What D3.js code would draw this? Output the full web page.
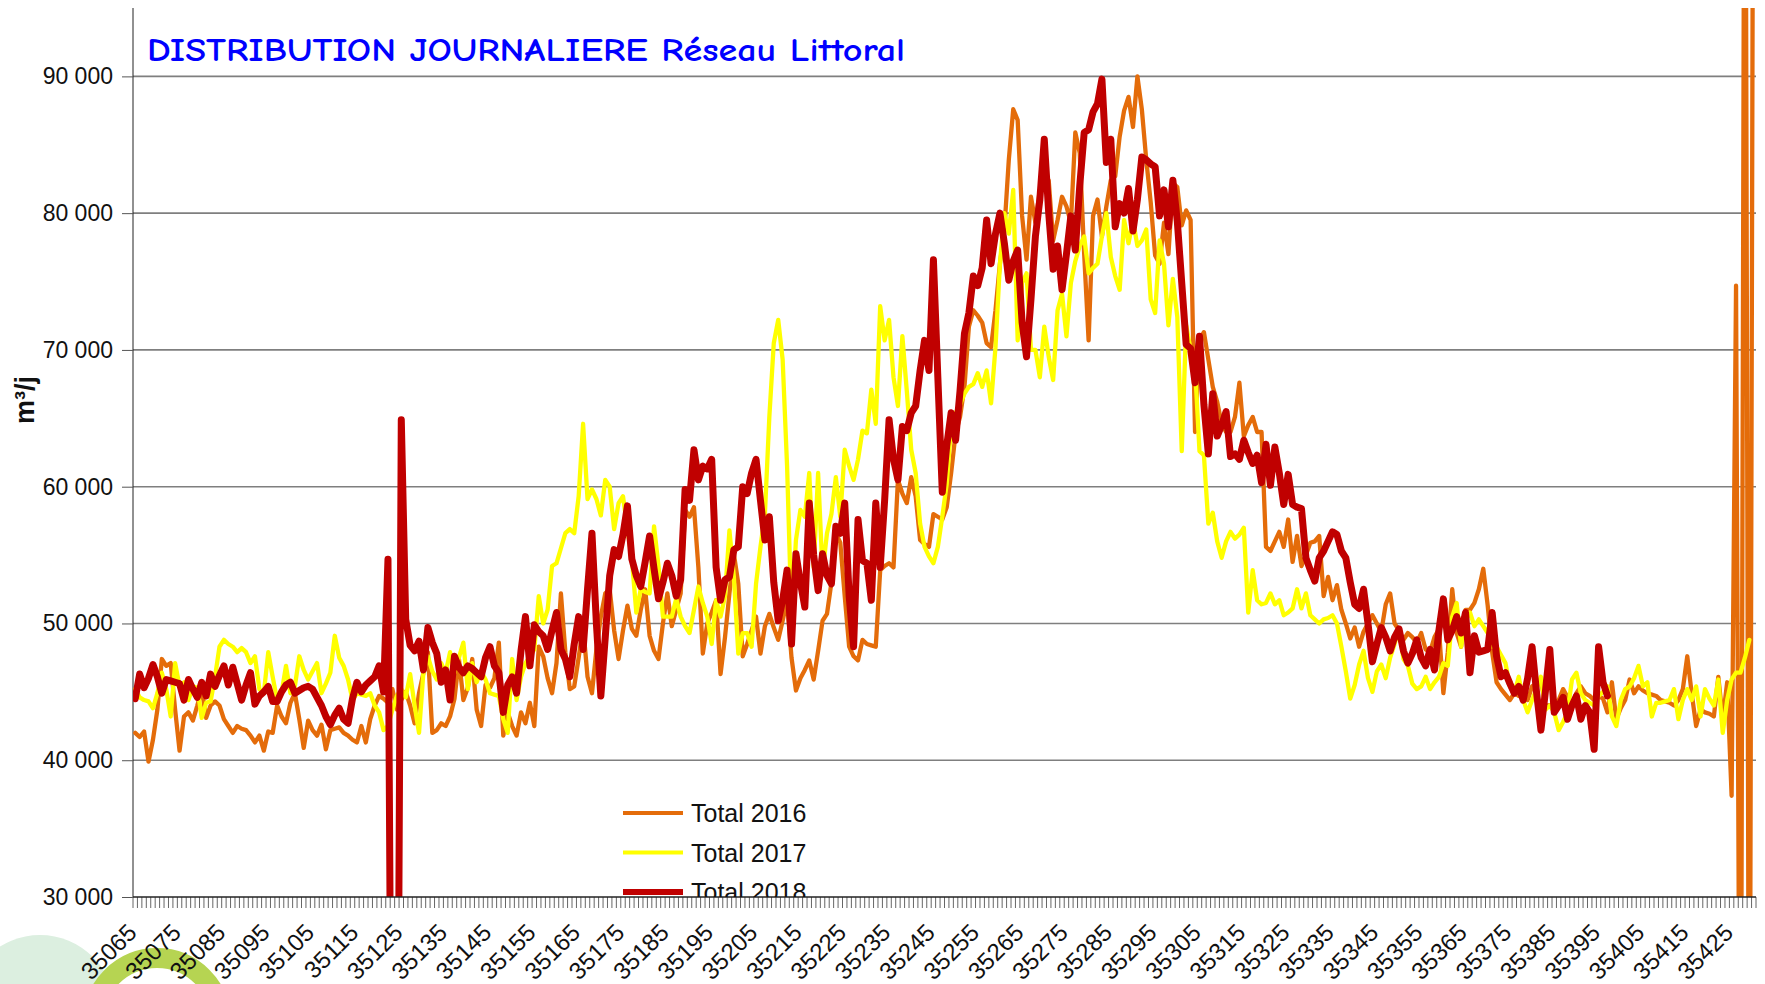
<!DOCTYPE html>
<html>
<head>
<meta charset="utf-8">
<script src="https://cdn.jsdelivr.net/npm/d3@7"></script>
<style>
  body { margin: 0; background: #fff; }
  svg { display: block; font-family: "Liberation Sans", Arial, sans-serif; }
</style>
</head>
<body>
<svg id="chart" width="1765" height="984"></svg>
<script>
// categories: Excel day numbers 35065 .. 35430
const days = d3.range(35065, 35431);
const tickDays = d3.range(35065, 35431, 10);
const yTicks = [30000, 40000, 50000, 60000, 70000, 80000, 90000];

const seriesNames = ['Total 2016', 'Total 2017', 'Total 2018'];

const total2016 = [
  42000, 41700, 42100, 39900, 41500, 43700, 47400, 46900, 47100, 43700,
  40700, 43200, 43500, 42900, 44000, 45200, 43100, 44000, 44300, 44000,
  43000, 42500, 42000, 42500, 42300, 42200, 41800, 41300, 41800, 40700,
  42100, 42000, 44000, 43200, 42700, 44200, 44900, 43000, 40900, 42900,
  42200, 41800, 42600, 40800, 42200, 42300, 42400, 42000, 41800, 41500,
  41300, 42500, 41300, 43000, 44000, 44700, 44500, 44200, 45200, 43700,
  44400, 45000, 44000, 42700, 44900, 46400, 47900, 42000, 42200, 42700,
  42500, 43200, 44500, 47400, 44400, 45300, 47400, 43700, 42500, 45500,
  45300, 46000, 48600, 41800, 43500, 42500, 41800, 43500, 42700, 44200,
  42500, 48300, 47600, 46000, 44900, 47100, 52200, 47900, 45200, 45400,
  47500, 49800, 46100, 44900, 48100, 50500, 52200, 52500, 49500, 47400,
  49500, 51300, 49600, 49100, 51000, 52500, 49100, 48000, 47400, 50000,
  52200, 49800, 51000, 52200, 58300, 57800, 58500, 54100, 47800, 50000,
  50800, 51700, 46300, 49000, 52200, 55100, 52900, 47600, 48500, 49500,
  50500, 47800, 49800, 50700, 49700, 48800, 50200, 51700, 47500, 45100,
  46000, 46600, 47300, 45900, 48000, 50200, 50700, 53000, 56600, 55900,
  52000, 48300, 47600, 47300, 48800, 48500, 48400, 48300, 53900, 54200,
  54400, 54100, 60500, 59500, 58800, 60700, 59300, 56100, 55800, 55600,
  58000, 57800, 57600, 58500, 61000, 63900, 65100, 67300, 71700, 72900,
  72500, 72000, 70500, 70200, 72900, 76300, 78800, 83900, 87600, 86800,
  79800, 76600, 81200, 79300, 81700, 82500, 82400, 78000, 79500, 81200,
  80500, 79300, 85900, 84400, 77000, 70700, 79800, 81000, 78300, 80500,
  82400, 82700, 85600, 87500, 88500, 86300, 90000, 87600, 83900, 80800,
  76900, 76300, 79300, 77000, 82200, 81900, 79100, 80200, 79500, 64000,
  70700, 71300, 69300, 67300, 66200, 64600, 64000, 64000, 65100, 67600,
  63700, 64500, 65100, 64000, 64000, 55600, 55300, 56000, 56700, 55600,
  57600, 54500, 56400, 54200, 55000, 55900, 56000, 56400, 52000, 53400,
  51700, 52800, 51000, 50000, 48900, 49700, 48300, 49400, 50000, 50600,
  50000, 49400, 51400, 52200, 50000, 49500, 48800, 49300, 49000, 48600,
  49300, 48100, 47900, 49000, 49600, 44900, 47900, 52500, 49300, 48300,
  51000, 51000, 51500, 52500, 54000, 51300, 47900, 45700, 45200, 44800,
  44400, 44900, 44700, 44600, 44400, 45400, 45600, 45900, 44000, 44000,
  44200, 44400, 45200, 44600, 44000, 44900, 45400, 44900, 44700, 44400,
  44700, 44500, 43500, 45700, 43000, 43800, 44400, 45900, 44900, 45400,
  45100, 44900, 44800, 44700, 44400, 44300, 44200, 44000, 44400, 45200,
  47600, 44900, 42500, 43700, 43500, 43400, 43200, 46100, 43000, 45700,
  37400, 74700, 0, 130000, 0, 130000
];

const total2017 = [
  45200, 44600, 44400, 44300, 43800, 44900, 46400, 45200, 43200, 47100,
  45400, 45700, 44400, 45400, 45300, 43100, 44200, 44300, 46100, 48300,
  48800, 48500, 48300, 47900, 48200, 47900, 47100, 47600, 45200, 44900,
  47900, 46100, 44400, 44900, 46900, 44900, 45400, 47600, 46600, 45900,
  46500, 47100, 44900, 45600, 46400, 49100, 47500, 46900, 45900, 44400,
  44900, 44800, 44700, 44900, 44000, 43500, 42200, 42500, 43700, 44700,
  45200, 44600, 46300, 44000, 42000, 46500, 47600, 46500, 45900, 47100,
  46400, 47900, 46400, 47500, 48600, 45200, 47100, 45700, 46500, 45900,
  44900, 44800, 44700, 43000, 42000, 47400, 44400, 46100, 47100, 47600,
  48100, 52000, 50000, 51000, 54200, 54400, 55500, 56600, 56900, 56600,
  59300, 64600, 59100, 59800, 59100, 57900, 60500, 60000, 56900, 58800,
  59300, 56900, 54700, 50800, 52500, 52300, 52200, 57100, 54200, 50500,
  50500, 50500, 51800, 50500, 49800, 49300, 51000, 52700, 51500, 50500,
  48500, 51700, 50500, 52000, 56800, 53400, 47800, 49300, 49300, 48300,
  52900, 55600, 58000, 65100, 70500, 72200, 69300, 61500, 50500, 56100,
  58300, 57800, 61000, 54100, 61000, 53700, 56600, 58000, 60700, 57800,
  62700, 61500, 60500, 62000, 64100, 63900, 67100, 64600, 73200, 70700,
  72200, 68000, 65900, 71000, 67000, 62700, 61000, 57300, 55600, 54900,
  54400, 55600, 57800, 60200, 64400, 65400, 66000, 66800, 67300, 67500,
  68300, 67300, 68500, 66100, 70200, 76300, 80000, 78500, 81700, 70700,
  74900, 75600, 70000, 70000, 68000, 71700, 69500, 67800, 72900, 74100,
  71000, 74900, 76500, 77600, 78300, 75600, 76000, 76300, 78300, 80000,
  76800, 75400, 74400, 79500, 77800, 79500, 77600, 78000, 78800, 73700,
  72700, 78000, 76300, 71800, 75200, 72400, 62600, 71800, 70000, 68700,
  62600, 62300, 57300, 58100, 56000, 54800, 56000, 56700, 56200, 56500,
  57000, 50800, 53900, 51700, 51400, 51500, 52200, 51400, 51700, 50600,
  50800, 51100, 52500, 51100, 52200, 50600, 50300, 50000, 50300, 50400,
  50600, 50000, 48300, 46500, 44500, 45500, 47000, 48000, 46000, 45000,
  46500, 47000, 46000, 47500, 48500, 49600, 47400, 46900, 45600, 45200,
  45400, 46100, 45200, 45700, 46100, 47100, 46900, 50500, 51500, 48300,
  50300, 50800, 49800, 50300, 49800, 49300, 48300, 48300, 47700, 47100,
  45400, 44900, 46100, 44400, 43500, 44400, 45200, 46100, 43700, 44000,
  43500, 42200, 42800, 43500, 45900, 46400, 44900, 44400, 44200, 44000,
  44700, 45000, 45400, 43200, 42500, 44400, 45200, 45400, 46000, 46900,
  45400, 45700, 43200, 44200, 44200, 44300, 44400, 45200, 43000, 44400,
  45200, 44400, 45400, 43200, 45200, 44500, 44000, 45900, 42000, 44400,
  45900, 46400, 46400, 47500, 48800
];

const total2018 = [
  44500, 46300, 45300, 46000, 47000, 46100, 44900, 45900, 45800, 45700,
  45600, 44400, 45900, 45200, 44600, 45700, 44700, 46300, 45400, 46200,
  46900, 45500, 46800, 45600, 44400, 45500, 46400, 44100, 44700, 45000,
  45400, 44300, 44300, 45000, 45500, 45700, 44900, 45100, 45300, 45400,
  45200, 44600, 44000, 43200, 42600, 43300, 43800, 43000, 42700, 44500,
  45700, 45000, 45500, 45800, 46100, 46900, 45000, 54700, 0, 0,
  64900, 50300, 48400, 48000, 48700, 46600, 49700, 48600, 47800, 45700,
  46600, 44400, 47600, 46800, 46400, 46900, 46700, 46400, 46100, 47500,
  48300, 46900, 46400, 43500, 45500, 46100, 44900, 48000, 50500, 46900,
  49900, 49400, 49100, 48100, 49500, 50800, 48100, 47400, 46100, 48500,
  50500, 48100, 52500, 56600, 50000, 44700, 49000, 53500, 55400, 54900,
  56500, 58600, 54700, 53500, 52700, 54500, 56400, 54000, 51800, 53000,
  54400, 53500, 52000, 53200, 59800, 59000, 62700, 60500, 61500, 61300,
  62000, 54100, 51700, 53200, 53400, 55400, 55600, 60000, 59500, 61000,
  62000, 59000, 56100, 57800, 53000, 50200, 51700, 53900, 48500, 55100,
  53000, 51200, 58800, 55000, 52400, 55100, 53500, 52900, 57100, 56600,
  58800, 52000, 48300, 57600, 54600, 54400, 51700, 58800, 54100, 59000,
  64900, 62000, 60500, 64400, 64100, 65400, 65900, 68500, 70700, 68500,
  76600, 68000, 59600, 63000, 65400, 63400, 67000, 71200, 72700, 75400,
  74700, 76000, 79500, 76300, 78500, 80000, 77800, 75100, 76500, 77300,
  72000, 69500, 73700, 78300, 81000, 85400, 80000, 75900, 77600, 74400,
  77000, 79800, 77300, 82000, 85900, 86100, 87400, 88000, 89800, 83700,
  85400, 79000, 80700, 80000, 81800, 78700, 81000, 84100, 83900, 83600,
  83400, 79800, 81700, 79000, 82400, 79400, 74900, 70400, 70100, 67600,
  71000, 66000, 62400, 66800, 63700, 64500, 65500, 62200, 62400, 62000,
  63400, 62500, 61700, 62300, 60300, 63100, 60100, 62900, 61000, 58700,
  60900, 58700, 58500, 58400, 54800, 53900, 53100, 54800, 55300, 56000,
  56700, 56500, 55300, 54800, 53000, 51400, 51100, 52500, 50000, 47200,
  48500, 49700, 49000, 48000, 49000, 49600, 48000, 47100, 47800, 48800,
  47500, 46900, 48100, 46600, 49500, 51800, 48800, 49500, 50500, 49300,
  50800, 46400, 49100, 47900, 48000, 48100, 50800, 47600, 46100, 46400,
  45600, 44900, 45400, 44400, 46000, 48300, 45000, 42200, 45000, 48100,
  43500, 44000, 44600, 43000, 44000, 44700, 43000, 44000, 43500, 40800,
  48300, 45700, 44700
];

const seriesColors = ['#E46C0A', '#FFFF00', '#C00000'];
const seriesWidths = [4.3, 4.3, 7];

const width = 1765, height = 984;
const plot = { left: 133, right: 1756, top: 8, bottom: 897 };

const svg = d3.select('#chart');

const x = d3.scaleBand().domain(days).range([plot.left, plot.right]).padding(0);
const y = d3.scaleLinear().domain([30000, 95000]).range([plot.bottom, plot.top]);
const cx = (d) => x(d) + x.bandwidth() / 2;

svg.append('defs').append('clipPath').attr('id', 'plot-clip')
  .append('rect')
  .attr('x', plot.left).attr('y', plot.top)
  .attr('width', plot.right - plot.left).attr('height', plot.bottom - plot.top);

// logo remains in the bottom-left corner
const logo = svg.append('g');
logo.append('circle').attr('cx', 40).attr('cy', 1010).attr('r', 75).attr('fill', '#dcefe0');
logo.append('circle').attr('cx', 157).attr('cy', 1022).attr('r', 64)
  .attr('fill', 'none').attr('stroke', '#b6d452').attr('stroke-width', 20);

// horizontal grid
svg.append('g')
  .selectAll('line')
  .data(yTicks.filter((d) => d > 30000))
  .join('line')
  .attr('x1', plot.left).attr('x2', plot.right)
  .attr('y1', (d) => y(d)).attr('y2', (d) => y(d))
  .attr('stroke', '#7f7f7f').attr('stroke-width', 1.6);

// y axis
const yAxis = svg.append('g')
  .attr('transform', `translate(${plot.left},0)`)
  .call(d3.axisLeft(y).tickValues(yTicks).tickSize(11).tickPadding(9)
    .tickFormat((d) => d3.format(',')(d).replace(',', ' ')));
yAxis.select('.domain').attr('d', `M0,${plot.top}V${plot.bottom}`).attr('stroke', '#222');
yAxis.selectAll('.tick line').attr('stroke', '#555');
yAxis.selectAll('text').attr('font-size', 23).attr('fill', '#111')
  .attr('font-family', '"Liberation Sans", Arial, sans-serif');

svg.append('text')
  .attr('transform', 'translate(34,400) rotate(-90)')
  .attr('text-anchor', 'middle')
  .attr('font-size', 27).attr('font-weight', 'bold').attr('fill', '#111')
  .text('m³/j');

// series lines
const line = d3.line()
  .x((v, i) => cx(days[i]))
  .y((v) => y(v));

const lines = svg.append('g').attr('clip-path', 'url(#plot-clip)');
[total2016, total2017, total2018].forEach((values, k) => {
  lines.append('path')
    .datum(values)
    .attr('d', line)
    .attr('fill', 'none')
    .attr('stroke', seriesColors[k])
    .attr('stroke-width', seriesWidths[k])
    .attr('stroke-linejoin', 'round')
    .attr('stroke-linecap', 'round');
});

// x axis: ticks between categories, a label every 10 days
const xAxis = svg.append('g');
xAxis.selectAll('line.tk')
  .data(d3.range(days.length + 1))
  .join('line')
  .attr('class', 'tk')
  .attr('x1', (i) => plot.left + i * x.step()).attr('x2', (i) => plot.left + i * x.step())
  .attr('y1', plot.bottom).attr('y2', plot.bottom + 11)
  .attr('stroke', '#666').attr('stroke-width', 1);
xAxis.append('line')
  .attr('x1', plot.left).attr('x2', plot.right)
  .attr('y1', plot.bottom).attr('y2', plot.bottom)
  .attr('stroke', '#222').attr('stroke-width', 1.5);
xAxis.selectAll('text')
  .data(tickDays)
  .join('text')
  .attr('transform', (d) => `translate(${cx(d) + 3},${plot.bottom + 37}) rotate(-45)`)
  .attr('text-anchor', 'end')
  .attr('font-size', 24).attr('fill', '#111')
  .text((d) => d);

// legend (cut by the bottom of the plot like in the original)
const legend = svg.append('g').attr('clip-path', 'url(#plot-clip)');
const legendRows = seriesNames.map((name, k) => ({ name, k, yPos: 813 + k * 39.5 }));
legend.selectAll('line')
  .data(legendRows)
  .join('line')
  .attr('x1', 623).attr('x2', 683)
  .attr('y1', (d) => d.yPos).attr('y2', (d) => d.yPos)
  .attr('stroke', (d) => seriesColors[d.k])
  .attr('stroke-width', (d) => (d.k === 2 ? 6 : 4));
legend.selectAll('text')
  .data(legendRows)
  .join('text')
  .attr('x', 691).attr('y', (d) => d.yPos + 9)
  .attr('font-size', 25).attr('fill', '#111')
  .text((d) => d.name);

// title
svg.append('text')
  .attr('x', 147).attr('y', 61)
  .attr('font-family', '"Comic Sans MS", "Comic Neue", "DejaVu Sans", sans-serif')
  .attr('font-size', 33).attr('font-weight', 'bold').attr('fill', '#0000FF')
  .attr('textLength', 758).attr('lengthAdjust', 'spacingAndGlyphs')
  .text('DISTRIBUTION JOURNALIERE Réseau Littoral');
</script>
</body>
</html>
